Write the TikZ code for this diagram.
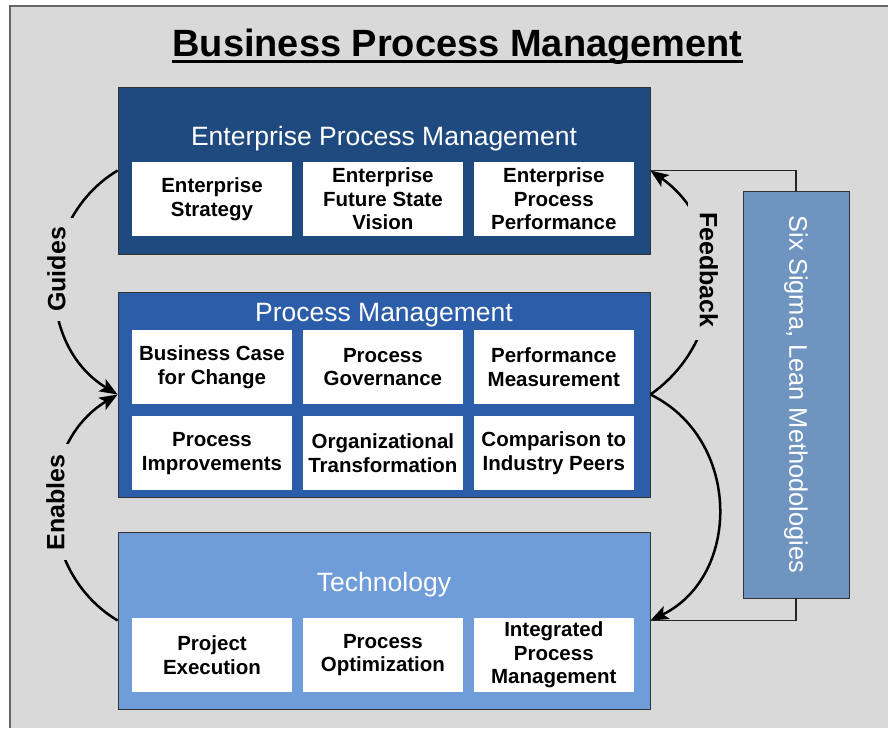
\documentclass[tikz,border=0pt]{standalone}
\usepackage{fontspec}
\setmainfont{Liberation Sans}
\usepackage{tikz}
\usepackage{xcolor}
\usetikzlibrary{arrows.meta, calc, positioning}
\definecolor{bgray}{HTML}{D9D9D9}
\definecolor{entblue}{HTML}{1F4A80}
\definecolor{procblue}{HTML}{2B5DA8}
\definecolor{techblue}{HTML}{6F9DD9}
\definecolor{sigmablue}{HTML}{7094C0}
\tikzset{
  %tier box style
  tier/.style={
    draw=black!80
    , line width=0.8pt
    , minimum width=532pt
    , anchor=center
    %, rounded corners
  },
  %white box inside a tier
  itembox/.style={
    fill=white
    , minimum width=159.5pt
    , minimum height=74pt
    , inner sep=2pt
    , align=center
    , text centered
    , font=\fontsize{20.5}{23.5}\selectfont\bfseries
  },
}

\begin{document}
\begin{tikzpicture}[x=1pt, y=-1pt]
  \tikzstyle{tierhead}=[text=white, anchor=base, font=\fontsize{26.5}{30}\selectfont]
  \tikzstyle{flow}=[line width=2.5pt, -{Stealth[length=18pt,width=14pt,inset=4pt]}]
  \tikzstyle{link}=[line width=1.4pt, black!85]
  \tikzstyle{verblabel}=[fill=bgray, inner sep=9pt, font=\fontsize{25}{28}\selectfont\bfseries]
  \useasboundingbox (0,0) rectangle (888,728);
  \fill[bgray] (10,6) rectangle (888,728);
  \draw[line width=1.2pt, black!60] (10,728) -- (10,6) -- (888,6);

  \node[font=\fontsize{38}{42}\selectfont\bfseries, anchor=base, inner sep=0pt] (title) at (457.5,56) {Business Process Management};
  \draw[line width=3pt] ([yshift=-5pt]title.base west) -- ([yshift=-5pt]title.base east);

  % the three tiers
  \node[tier, fill=entblue, minimum height=167pt] (ep) at (384,170.5) {};
  \node[tier, fill=procblue, minimum height=205pt] (pm) at (384,394.5) {};
  \node[tier, fill=techblue, minimum height=177pt] (tech) at (384,620.5) {};
  \node[draw=black!80, line width=0.8pt, fill=sigmablue, minimum width=106pt, minimum height=407pt] (ss) at (796,394.5) {};
  \node[text=white, rotate=-90, font=\fontsize{25.4}{28}\selectfont] (sstext) at (ss.center) {Six Sigma, Lean Methodologies};

  \node[tierhead] (eph) at (384,145) {Enterprise Process Management};
  \node[tierhead] (pmh) at (384,321) {Process Management};
  \node[tierhead] (techh) at (384,591) {Technology};

  \node[itembox] (es) at (212,199) {Enterprise\\Strategy};
  \node[itembox,right=11pt of es] (efs) {Enterprise\\Future State\\Vision};
  \node[itembox,right=11pt of efs] (epp) {Enterprise\\Process\\Performance};
%
  \node[itembox] (bc) at (212,367) {Business Case\\for Change};
  \node[itembox,right=11pt of bc] (pg) {Process\\Governance};
  \node[itembox,right=11pt of pg] (pmeas) {Performance\\Measurement};
  \node[itembox,below=12pt of bc] (pi) {Process\\Improvements};
  \node[itembox,right=11pt of pi] (ot) {Organizational\\Transformation};
  \node[itembox,right=11pt of ot] (cip) {Comparison to\\Industry Peers};
%
  \node[itembox] (pe) at (212,655) {Project\\Execution};
  \node[itembox,right=11pt of pe] (po) {Process\\Optimization};
  \node[itembox,right=11pt of po] (ipm) {Integrated\\Process\\Management};

  \draw[flow] (ep.west) to[bend right=59, looseness=1.1] node[verblabel, pos=0.45, rotate=90] {Guides} (pm.west);
  \draw[flow] (tech.west) to[bend left=59, looseness=1.1] node[verblabel, pos=0.52, rotate=90, inner sep=10pt] {Enables} (pm.west);

  \draw[flow] (pm.east) to[bend right=55, looseness=1.1] node[verblabel, pos=0.55, rotate=-90, inner sep=12pt] {Feedback} (ep.east);
  \draw[flow] (pm.east) to[bend left=64, looseness=1.15] (tech.east);

  \draw[link] (ss.north) |- (ep.east);
  \draw[link] (ss.south) |- (tech.east);

\end{tikzpicture}
\end{document}
